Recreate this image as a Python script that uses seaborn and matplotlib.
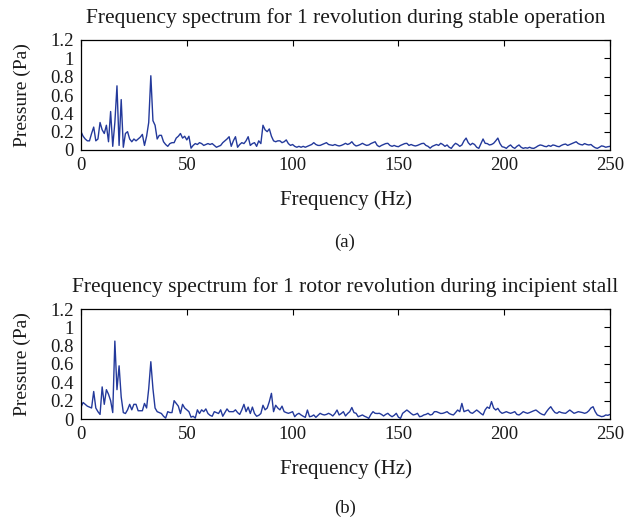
import numpy as np
import pandas as pd
import matplotlib
matplotlib.use("Agg")
import matplotlib.pyplot as plt
import seaborn as sns

freq = list(range(0, 251))

stable = [
    0.20, 0.15, 0.12, 0.10, 0.10, 0.18, 0.25, 0.10, 0.12, 0.30,
    0.22, 0.18, 0.27, 0.09, 0.42, 0.04, 0.30, 0.70, 0.05, 0.55,
    0.03, 0.18, 0.20, 0.12, 0.09, 0.12, 0.10, 0.12, 0.14, 0.17,
    0.05, 0.15, 0.30, 0.81, 0.32, 0.27, 0.12, 0.16, 0.16, 0.09,
    0.06, 0.04, 0.07, 0.08, 0.08, 0.13, 0.15, 0.18, 0.13, 0.15,
    0.11, 0.15, 0.02, 0.05, 0.07, 0.06, 0.08, 0.07, 0.05, 0.06,
    0.07, 0.06, 0.07, 0.05, 0.03, 0.04, 0.05, 0.08, 0.10, 0.12,
    0.145, 0.04, 0.10, 0.145, 0.03, 0.06, 0.08, 0.07, 0.10, 0.145,
    0.05, 0.07, 0.08, 0.04, 0.10, 0.07, 0.27, 0.22, 0.20, 0.23,
    0.15, 0.10, 0.09, 0.10, 0.10, 0.08, 0.09, 0.11, 0.07, 0.05,
    0.06, 0.04, 0.03, 0.04, 0.03, 0.04, 0.03, 0.04, 0.05, 0.06,
    0.08, 0.06, 0.05, 0.05, 0.06, 0.07, 0.08, 0.06, 0.055, 0.05,
    0.06, 0.05, 0.044, 0.05, 0.06, 0.073, 0.06, 0.07, 0.09, 0.06,
    0.044, 0.05, 0.06, 0.073, 0.06, 0.05, 0.055, 0.07, 0.08, 0.09,
    0.05, 0.036, 0.05, 0.06, 0.07, 0.073, 0.05, 0.04, 0.05, 0.04,
    0.036, 0.05, 0.06, 0.07, 0.073, 0.05, 0.06, 0.05, 0.044, 0.05,
    0.06, 0.07, 0.073, 0.05, 0.04, 0.02, 0.04, 0.05, 0.06, 0.05,
    0.073, 0.06, 0.04, 0.055, 0.03, 0.018, 0.05, 0.073, 0.06, 0.04,
    0.055, 0.10, 0.13, 0.08, 0.055, 0.073, 0.06, 0.03, 0.018, 0.07,
    0.12, 0.073, 0.07, 0.055, 0.06, 0.073, 0.10, 0.13, 0.07, 0.036,
    0.03, 0.018, 0.04, 0.055, 0.03, 0.018, 0.04, 0.055, 0.03, 0.018,
    0.025, 0.02, 0.03, 0.02, 0.018, 0.03, 0.045, 0.055, 0.05, 0.04,
    0.036, 0.05, 0.04, 0.055, 0.05, 0.04, 0.036, 0.05, 0.06, 0.065,
    0.05, 0.06, 0.07, 0.08, 0.09, 0.07, 0.06, 0.055, 0.07, 0.06,
    0.055, 0.06, 0.04, 0.025, 0.018, 0.03, 0.045, 0.04, 0.03, 0.036,
    0.04,
]

stall = [
    0.13, 0.18, 0.16, 0.14, 0.13, 0.12, 0.30, 0.12, 0.08, 0.05,
    0.35, 0.16, 0.32, 0.27, 0.20, 0.07, 0.85, 0.32, 0.58, 0.24,
    0.07, 0.06, 0.10, 0.16, 0.10, 0.16, 0.16, 0.09, 0.09, 0.09,
    0.17, 0.12, 0.33, 0.625, 0.33, 0.12, 0.08, 0.07, 0.06, 0.03,
    0.01, 0.08, 0.07, 0.07, 0.20, 0.17, 0.14, 0.06, 0.16, 0.12,
    0.10, 0.08, 0.02, 0.03, 0.01, 0.10, 0.06, 0.10, 0.08, 0.11,
    0.06, 0.04, 0.03, 0.08, 0.07, 0.06, 0.10, 0.03, 0.07, 0.11,
    0.08, 0.08, 0.08, 0.10, 0.07, 0.05, 0.10, 0.16, 0.08, 0.13,
    0.06, 0.13, 0.06, 0.03, 0.04, 0.06, 0.15, 0.10, 0.12, 0.19,
    0.28, 0.08, 0.15, 0.12, 0.10, 0.14, 0.08, 0.07, 0.062, 0.07,
    0.08, 0.025, 0.05, 0.062, 0.044, 0.03, 0.018, 0.098, 0.025, 0.03,
    0.044, 0.018, 0.04, 0.062, 0.05, 0.044, 0.05, 0.062, 0.05, 0.033,
    0.06, 0.098, 0.044, 0.06, 0.08, 0.033, 0.06, 0.08, 0.125, 0.07,
    0.062, 0.025, 0.035, 0.044, 0.03, 0.02, 0.007, 0.05, 0.08, 0.062,
    0.06, 0.062, 0.05, 0.033, 0.05, 0.062, 0.04, 0.025, 0.04, 0.062,
    0.02, 0.007, 0.062, 0.08, 0.098, 0.08, 0.06, 0.044, 0.05, 0.062,
    0.025, 0.03, 0.044, 0.05, 0.062, 0.044, 0.05, 0.08, 0.08, 0.07,
    0.06, 0.062, 0.07, 0.08, 0.06, 0.05, 0.044, 0.07, 0.098, 0.08,
    0.17, 0.08, 0.09, 0.098, 0.07, 0.062, 0.08, 0.098, 0.08, 0.06,
    0.044, 0.10, 0.13, 0.116, 0.19, 0.12, 0.098, 0.116, 0.08, 0.062,
    0.07, 0.08, 0.07, 0.062, 0.07, 0.08, 0.05, 0.044, 0.06, 0.08,
    0.07, 0.062, 0.07, 0.08, 0.09, 0.098, 0.08, 0.062, 0.05, 0.044,
    0.08, 0.11, 0.134, 0.098, 0.07, 0.062, 0.08, 0.07, 0.065, 0.062,
    0.08, 0.098, 0.08, 0.062, 0.07, 0.08, 0.075, 0.07, 0.062, 0.07,
    0.09, 0.12, 0.134, 0.08, 0.044, 0.035, 0.026, 0.03, 0.044, 0.04,
    0.05,
]

titles = [
    "Frequency spectrum for 1 revolution during stable operation",
    "Frequency spectrum for 1 rotor revolution during incipient stall",
]
panel_labels = ["(a)", "(b)"]
x_ticks = [0, 50, 100, 150, 200, 250]
y_ticks = [0, 0.2, 0.4, 0.6, 0.8, 1.0, 1.2]
y_tick_labels = ["0", "0.2", "0.4", "0.6", "0.8", "1", "1.2"]

sns.set_theme(style="white")
plt.rcParams["font.family"] = ["Liberation Serif", "DejaVu Serif"]
plt.rcParams.update({
    "xtick.direction": "in", "ytick.direction": "in",
    "xtick.top": True, "ytick.right": True,
    "xtick.major.size": 4, "ytick.major.size": 4,
    "xtick.major.width": 0.8, "ytick.major.width": 0.8,
    "text.color": "#1a1a1a", "axes.labelcolor": "#1a1a1a",
})

W, H = 626, 524
fig = plt.figure(figsize=(W / 100, H / 100), dpi=100)
color = "#23399b"

rects = [
    (81 / W, 1 - 150 / H, 529 / W, 110 / H),
    (81 / W, 1 - 419 / H, 529 / W, 110 / H),
]
label_y = [242, 508]

for i, (series, rect) in enumerate(zip([stable, stall], rects)):
    ax = fig.add_axes(rect)
    df = pd.DataFrame({"Frequency": freq, "Pressure": series})
    sns.lineplot(data=df, x="Frequency", y="Pressure", ax=ax,
                 color=color, linewidth=1.0)
    ax.set_xlim(0, 250)
    ax.set_ylim(0, 1.2)
    ax.set_xticks(x_ticks)
    ax.set_yticks(y_ticks)
    ax.set_yticklabels(y_tick_labels)
    ax.tick_params(axis="both", labelsize=13.5, colors="black",
                   labelcolor="#1a1a1a", pad=5)
    for sp in ax.spines.values():
        sp.set_color("black")
        sp.set_linewidth(0.9)
    ax.set_title(titles[i], fontsize=15.5, pad=12)
    ax.set_xlabel("Frequency (Hz)", fontsize=15, labelpad=12)
    ax.set_ylabel("Pressure (Pa)", fontsize=14, labelpad=14)
    fig.text(345 / W, 1 - label_y[i] / H, panel_labels[i], ha="center",
             va="center", fontsize=13.5)

fig.savefig("out.png", dpi=100)
